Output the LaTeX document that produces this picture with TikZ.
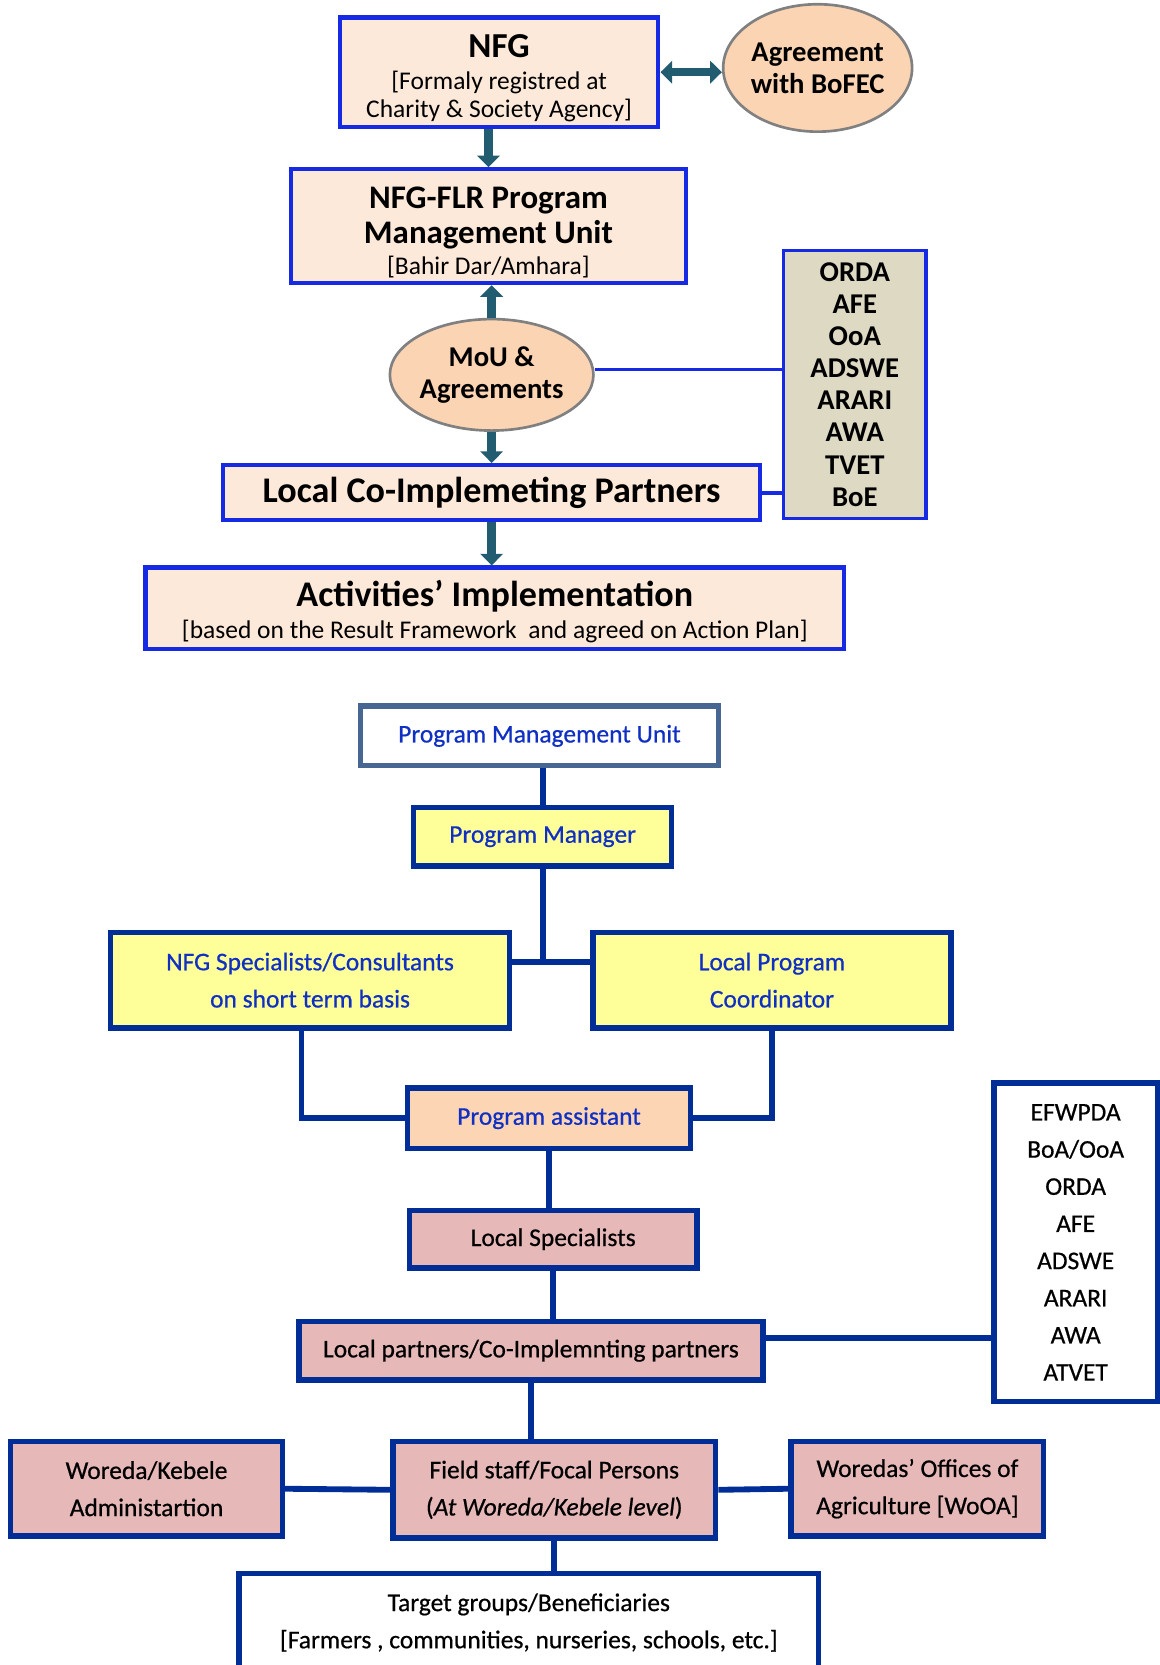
\documentclass[tikz,border=0pt]{standalone}
\usepackage{fontspec}
\setmainfont{Carlito}
\newfontfamily\unitfamily[FakeBold=0.6]{Carlito}
\usetikzlibrary{positioning,arrows.meta,shapes.geometric,backgrounds}

\definecolor{topfill}{RGB}{253,233,217}
\definecolor{topline}{RGB}{22,42,228}
\definecolor{arrowteal}{RGB}{34,92,112}
\definecolor{ovalfill}{RGB}{251,212,180}
\definecolor{ovalline}{RGB}{128,128,128}
\definecolor{tanfill}{RGB}{221,217,195}
\definecolor{navy}{RGB}{0,46,150}
\definecolor{steel}{RGB}{72,102,146}
\definecolor{yellowfill}{RGB}{255,255,153}
\definecolor{peachfill}{RGB}{252,213,180}
\definecolor{rosefill}{RGB}{230,185,184}
\definecolor{bluetext}{RGB}{16,48,196}

\newcommand{\headfont}{\fontsize{31}{34}\selectfont\bfseries}
\newcommand{\notefont}{\fontsize{24}{27}\selectfont}
\newcommand{\listfont}{\fontsize{27}{30.3}\selectfont\bfseries}
\newcommand{\unitfont}{\unitfamily\fontsize{24}{35}\selectfont}

\begin{document}
\begin{tikzpicture}[x=1pt,y=-1pt,
  topbox/.style={draw=topline,line width=4pt,fill=topfill,align=center,inner sep=0pt,font=\notefont},
  oval/.style={ellipse,draw=ovalline,line width=2.5pt,fill=ovalfill,align=center,inner sep=0pt,
    font=\fontsize{27}{30}\selectfont\bfseries},
  orglist/.style={draw=topline,line width=3pt,fill=tanfill,align=center,inner sep=0pt,font=\listfont},
  blockarrow/.style={draw=arrowteal,line width=8pt,-{Triangle[width=21pt,length=11pt]}},
  link/.style={draw=topline,line width=3.5pt},
  unitbox/.style={draw=navy,line width=5pt,align=center,inner sep=0pt,font=\unitfont},
  tie/.style={draw=navy,line width=5.5pt}]
\useasboundingbox (0,0) rectangle (1092,1568);

% upper chart
\node[topbox,minimum width=300,minimum height=103] (nfg) at (470,68)
  {\rule{0pt}{33pt}{\fontsize{33}{36}\selectfont\bfseries NFG}\\[3pt]{[}Formaly registred at\\Charity \& Society Agency{]}};
\node[oval,minimum width=160,minimum height=120] (bofec) at (770,64) {Agreement\\with BoFEC};
\node[topbox,minimum width=372,minimum height=107] (pmu) at (460,213)
  {\rule{0pt}{32pt}\headfont NFG-FLR Program\\[5pt]\headfont Management Unit\\[2pt]{[}Bahir Dar/Amhara{]}};
\node[oval,minimum width=187,minimum height=105] (mou) at (463,353) {MoU \&\\Agreements};
\node[topbox,minimum width=506,minimum height=52] (lcp) at (463,464)
  {\fontsize{34}{36}\selectfont\bfseries Local Co-Implemeting Partners};
\node[orglist,minimum width=134,minimum height=252] (orgs) at (805,362)
  {ORDA\\AFE\\OoA\\ADSWE\\ARARI\\AWA\\TVET\\BoE};
\node[topbox,minimum width=658,minimum height=77] (act) at (466,573)
  {\rule{0pt}{31pt}\fontsize{34}{36}\selectfont\bfseries Activities’ Implementation\\[3pt]{[}based on the Result Framework\ \ and agreed on Action Plan{]}};

\draw[blockarrow,{Triangle[width=21pt,length=11pt]}-{Triangle[width=21pt,length=11pt]}]
  (nfg.east) -- (nfg.east -| bofec.west);
\draw[blockarrow] (pmu.north |- nfg.south) -- (pmu.north);
\draw[blockarrow] (mou.north) -- (mou.north |- pmu.south);
\draw[blockarrow] (mou.south) -- (mou.south |- lcp.north);
\draw[blockarrow] (lcp.south) -- (lcp.south |- act.north);
\draw[link] ([yshift=5pt]mou.east) -- ([yshift=5pt]mou.east -| orgs.west);
\draw[link] (lcp.east) -- (lcp.east -| orgs.west);

% lower chart
\node[unitbox,draw=steel,fill=white,text=bluetext,minimum width=337,minimum height=56] (unit) at (508,693)
  {Program Management Unit};
\node[unitbox,fill=yellowfill,text=bluetext,minimum width=243,minimum height=55] (mgr) at (511,788)
  {Program Manager};
\node[unitbox,fill=yellowfill,text=bluetext,minimum width=376,minimum height=90] (spec) at (292,923)
  {NFG Specialists/Consultants\\on short term basis};
\node[unitbox,fill=yellowfill,text=bluetext,minimum width=337,minimum height=90] (coord) at (727,923)
  {Local Program\\Coordinator};
\node[unitbox,fill=peachfill,text=bluetext,minimum width=267,minimum height=57] (assist) at (517,1053)
  {Program assistant};
\node[unitbox,fill=rosefill,minimum width=271,minimum height=54] (locspec) at (521,1167)
  {Local Specialists};
\node[unitbox,fill=rosefill,minimum width=437,minimum height=55] (partners) at (500,1272)
  {Local partners/Co-Implemnting partners};
\node[unitbox,fill=white,minimum width=154,minimum height=300] (orgs2) at (1013,1170)
  {EFWPDA\\BoA/OoA\\ORDA\\AFE\\ADSWE\\ARARI\\AWA\\ATVET};
\node[unitbox,fill=rosefill,minimum width=304,minimum height=91] (field) at (522,1403)
  {Field staff/Focal Persons\\(\textit{At Woreda/Kebele level})};
\node[unitbox,fill=rosefill,minimum width=256,minimum height=89] (woreda) at (138,1402)
  {Woreda/Kebele\\Administartion};
\node[unitbox,fill=rosefill,minimum width=238,minimum height=89] (woa) at (864,1402)
  {Woredas’ Offices of\\Agriculture [WoOA]};
\node[unitbox,fill=white,minimum width=546,minimum height=92] (target) at (498,1528)
  {Target groups/Beneficiaries\\{[}Farmers , communities, nurseries, schools, etc.{]}};

\coordinate (jn) at (514,906);
\begin{scope}[on background layer]
\draw[tie] (mgr.north) -- (mgr.north |- unit.south);
\draw[tie] (mgr.south) -- (mgr.south |- jn);
\draw[tie] (spec.east |- jn) -- (coord.west |- jn);
\draw[tie] ([xshift=-8pt]spec.south) |- (assist.west);
\draw[tie] (coord.south) |- (assist.east);
\draw[tie] (assist.south) -- (assist.south |- locspec.north);
\draw[tie] (locspec.south) -- (locspec.south |- partners.north);
\draw[tie] ([yshift=12pt]partners.east) -- ([yshift=12pt]partners.east -| orgs2.west);
\draw[tie] (partners.south) -- (partners.south |- field.north);
\draw[tie] (woreda.east) -- (field.west);
\draw[tie] (field.east) -- (woa.west);
\draw[tie] (field.south) -- (field.south |- target.north);
\end{scope}
\end{tikzpicture}
\end{document}
